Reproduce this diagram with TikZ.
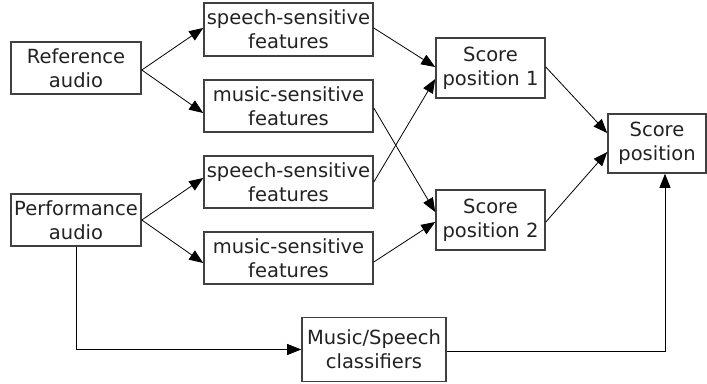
\documentclass[tikz,border=0pt]{standalone}
\usepackage{fontspec}
\setmainfont{DejaVu Sans}
\usetikzlibrary{arrows.meta,calc}
\definecolor{boxline}{HTML}{404040}
\definecolor{txt}{HTML}{222222}
\begin{document}
\begin{tikzpicture}[x=1pt,y=-1pt,
  box/.style={draw=boxline,line width=1.6pt,fill=white,rectangle,inner sep=0pt,
    align=center,text=txt,font=\fontsize{19.5}{24}\selectfont},
  conn/.style={line width=0.8pt,-{Triangle[length=14pt,width=11pt]}}]
\useasboundingbox (0,0) rectangle (707,383);
\node[box,minimum width=130pt,minimum height=52pt] (ref) at (76,68) {Reference\\audio};
\node[box,minimum width=130pt,minimum height=52pt] (perf) at (76,220) {Performance\\audio};
\node[box,minimum width=169pt,minimum height=53pt] (s1) at (288.5,29.5) {speech-sensitive\\features};
\node[box,minimum width=169pt,minimum height=52pt] (m1) at (288.5,106) {music-sensitive\\features};
\node[box,minimum width=169pt,minimum height=52pt] (s2) at (288.5,182) {speech-sensitive\\features};
\node[box,minimum width=169pt,minimum height=52pt] (m2) at (288.5,258) {music-sensitive\\features};
\node[box,minimum width=109pt,minimum height=60pt] (sp1) at (490.5,68) {Score\\position 1};
\node[box,minimum width=109pt,minimum height=60pt] (sp2) at (490.5,220) {Score\\position 2};
\node[box,minimum width=98pt,minimum height=59pt] (sp) at (657,143.5) {Score\\position};
\node[box,minimum width=144pt,minimum height=64pt] (cls) at (374,349.5) {Music/Speech\\classifiers};
\draw[conn] ($(ref.east)+(0,2)$) -- ($(s1.west)+(0,-1.5)$);
\draw[conn] ($(ref.east)+(0,2)$) -- ($(m1.west)+(0,7)$);
\draw[conn] (perf.east) -- ($(s2.west)+(0,-4)$);
\draw[conn] (perf.east) -- ($(m2.west)+(0,5)$);
\draw[conn] ($(s1.east)+(0,-1.5)$) -- ($(sp1.west)+(0,-1)$);
\draw[conn] ($(m1.east)+(0,2)$) -- ($(sp2.west)+(0,-8)$);
\draw[conn] (s2.east) -- ($(sp1.west)+(0,11)$);
\draw[conn] ($(m2.east)+(0,4)$) -- ($(sp2.west)+(0,2)$);
\draw[conn] ($(sp1.east)+(0,-1)$) -- ($(sp.west)+(0,-10.5)$);
\draw[conn] ($(sp2.east)+(0,2)$) -- ($(sp.west)+(0,8.5)$);
\draw[conn] (perf.south) |- (cls.west);
\draw[conn] ($(cls.east)+(0,1.5)$) -| ($(sp.south)+(8,0)$);
\end{tikzpicture}
\end{document}
